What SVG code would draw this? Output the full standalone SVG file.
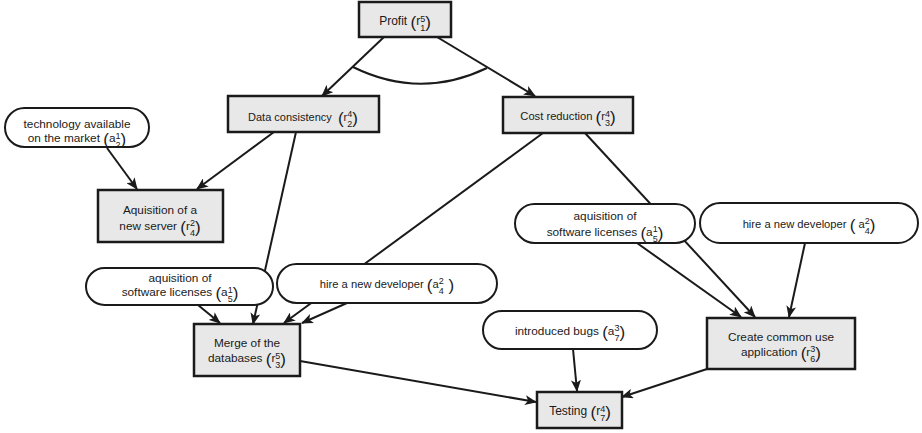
<svg xmlns="http://www.w3.org/2000/svg" width="922" height="433" viewBox="0 0 922 433">
<style>
text{font-family:"Liberation Sans",Arial,sans-serif;font-size:11.8px;fill:#1a1a1a;text-anchor:middle}
.s{font-size:9px}
.p{font-size:17px}
.box{fill:#e8e8e8;stroke:#1a1a1a;stroke-width:2.5}
.ell{fill:#fff;stroke:#1a1a1a;stroke-width:2}
.c{fill:none;stroke:#1a1a1a;stroke-width:2}
.a{marker-end:url(#ah)}
</style>
<defs>
<marker id="ah" viewBox="0 0 12 10" refX="11" refY="5" markerWidth="12" markerHeight="10" markerUnits="userSpaceOnUse" orient="auto">
<path d="M0,0 L12,5 L0,10 L3,5 z" fill="#1a1a1a"/>
</marker>
</defs>
<g id="connectors">
<line class="c a" x1="384" y1="37" x2="322" y2="96"/>
<line class="c a" x1="437" y1="37" x2="535" y2="96"/>
<path class="c" d="M353,67 Q420,100 487,68"/>
<line class="c a" x1="107" y1="148" x2="137" y2="189"/>
<line class="c a" x1="274" y1="132" x2="197" y2="189"/>
<line class="c a" x1="296" y1="132" x2="253" y2="324"/>
<line class="c a" x1="543" y1="133" x2="284" y2="323"/>
<line class="c a" x1="198" y1="305" x2="220" y2="323"/>
<line class="c a" x1="347" y1="303" x2="302" y2="323"/>
<line class="c a" x1="585" y1="133" x2="755" y2="317"/>
<line class="c a" x1="637" y1="243" x2="741" y2="317"/>
<line class="c a" x1="805" y1="243" x2="789" y2="317"/>
<line class="c a" x1="573" y1="349" x2="577" y2="391"/>
<line class="c a" x1="300" y1="361" x2="536" y2="402"/>
<line class="c a" x1="707" y1="369" x2="622" y2="397"/>
</g>
<g id="profit"><rect class="box" x="359" y="2" width="92" height="35"/>
<text x="405" y="25" style="font-size:12px">Profit <tspan class="p" dy="3">(</tspan><tspan dy="-3">r</tspan><tspan class="s" dy="-3.2">5</tspan><tspan class="s" dx="-5" dy="9.2">1</tspan><tspan class="p" dy="-3">)</tspan></text></g>
<g id="data-consistency"><rect class="box" x="228" y="96" width="151" height="36"/>
<text x="303" y="120.5" xml:space="preserve" style="font-size:11px">Data consistency  <tspan class="p" dy="3">(</tspan><tspan dy="-3">r</tspan><tspan class="s" dy="-3.2">4</tspan><tspan class="s" dx="-5" dy="9.2">2</tspan><tspan class="p" dy="-3">)</tspan></text></g>
<g id="cost-reduction"><rect class="box" x="503" y="97" width="130" height="36"/>
<text x="568" y="120" style="font-size:11.2px">Cost reduction <tspan class="p" dy="3">(</tspan><tspan dy="-3">r</tspan><tspan class="s" dy="-3.2">4</tspan><tspan class="s" dx="-5" dy="9.2">3</tspan><tspan class="p" dy="-3">)</tspan></text></g>
<g id="technology"><rect class="ell" x="5" y="108" width="144" height="39" rx="19.5"/>
<text x="77" y="127.5">technology available</text>
<text x="77" y="142">on the market <tspan class="p" dy="3">(</tspan><tspan dy="-3">a</tspan><tspan class="s" dy="-3.2">1</tspan><tspan class="s" dx="-5" dy="9.2">2</tspan><tspan class="p" dy="-3">)</tspan></text></g>
<g id="new-server"><rect class="box" x="98" y="190" width="125" height="52"/>
<text x="160" y="214">Aquisition of a</text>
<text x="160" y="229.5">new server <tspan class="p" dy="3">(</tspan><tspan dy="-3">r</tspan><tspan class="s" dy="-3.2">2</tspan><tspan class="s" dx="-5" dy="9.2">4</tspan><tspan class="p" dy="-3">)</tspan></text></g>
<g id="licenses-right"><rect class="ell" x="515" y="204" width="180" height="39" rx="19.5"/>
<text x="605" y="220">aquisition of</text>
<text x="605" y="235.5">software licenses <tspan class="p" dy="3">(</tspan><tspan dy="-3">a</tspan><tspan class="s" dy="-3.2">1</tspan><tspan class="s" dx="-5" dy="9.2">5</tspan><tspan class="p" dy="-3">)</tspan></text></g>
<g id="developer-right"><rect class="ell" x="700" y="203" width="218" height="40" rx="20"/>
<text x="809" y="227.5" xml:space="preserve" style="font-size:11.2px">hire a new developer <tspan class="p" dy="3">(</tspan><tspan dy="-3"> a</tspan><tspan class="s" dy="-3.2">2</tspan><tspan class="s" dx="-5" dy="9.2">4</tspan><tspan class="p" dy="-3">)</tspan></text></g>
<g id="licenses-left"><rect class="ell" x="86" y="268" width="187" height="37" rx="18.5"/>
<text x="180" y="281.5">aquisition of</text>
<text x="180" y="296">software licenses <tspan class="p" dy="3">(</tspan><tspan dy="-3">a</tspan><tspan class="s" dy="-3.2">1</tspan><tspan class="s" dx="-5" dy="9.2">5</tspan><tspan class="p" dy="-3">)</tspan></text></g>
<g id="developer-left"><rect class="ell" x="277" y="264" width="220" height="39" rx="19.5"/>
<text x="387" y="287.5" xml:space="preserve" style="font-size:11.2px">hire a new developer <tspan class="p" dy="3">(</tspan><tspan dy="-3">a</tspan><tspan class="s" dy="-3.2">2</tspan><tspan class="s" dx="-5" dy="9.2">4</tspan><tspan class="p" dy="-3"> )</tspan></text></g>
<g id="merge"><rect class="box" x="194" y="324" width="106" height="52"/>
<text x="247" y="347">Merge of the</text>
<text x="247" y="362">databases <tspan class="p" dy="3">(</tspan><tspan dy="-3">r</tspan><tspan class="s" dy="-3.2">5</tspan><tspan class="s" dx="-5" dy="9.2">3</tspan><tspan class="p" dy="-3">)</tspan></text></g>
<g id="bugs"><rect class="ell" x="483" y="311" width="174" height="38" rx="19"/>
<text x="570" y="334.5">introduced bugs <tspan class="p" dy="3">(</tspan><tspan dy="-3">a</tspan><tspan class="s" dy="-3.2">3</tspan><tspan class="s" dx="-5" dy="9.2">7</tspan><tspan class="p" dy="-3">)</tspan></text></g>
<g id="common-app"><rect class="box" x="707" y="318" width="148" height="51"/>
<text x="781" y="340.5">Create common use</text>
<text x="781" y="355.5">application <tspan class="p" dy="3">(</tspan><tspan dy="-3">r</tspan><tspan class="s" dy="-3.2">3</tspan><tspan class="s" dx="-5" dy="9.2">6</tspan><tspan class="p" dy="-3">)</tspan></text></g>
<g id="testing"><rect class="box" x="537" y="392" width="85" height="36"/>
<text x="580" y="415" style="font-size:12px">Testing <tspan class="p" dy="3">(</tspan><tspan dy="-3">r</tspan><tspan class="s" dy="-3.2">4</tspan><tspan class="s" dx="-5" dy="9.2">7</tspan><tspan class="p" dy="-3">)</tspan></text></g>
</svg>
